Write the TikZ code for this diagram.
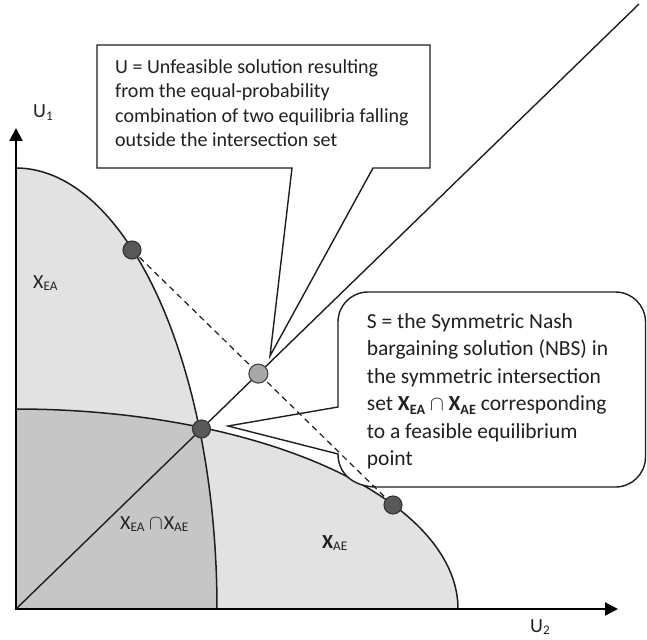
\documentclass[tikz,border=0pt]{standalone}
\usepackage{fontspec}
\setmainfont{Carlito}
\usetikzlibrary{arrows.meta}
\definecolor{txt}{HTML}{231F20}
\definecolor{lightreg}{HTML}{E2E2E2}
\definecolor{midreg}{HTML}{C6C6C6}
\definecolor{dotdark}{HTML}{595959}
\definecolor{dotlight}{HTML}{A8A8A8}
\definecolor{lineclr}{HTML}{1E1E1E}
\newcommand\lowsub[1]{\raisebox{-0.3ex}{\scalebox{0.66}{#1}}}
\begin{document}
\begin{tikzpicture}[x=1bp,y=-1bp,
  frontier/.style={draw=lineclr,line width=1.5bp},
  axisline/.style={draw=black,line width=2.2bp,{Triangle[length=13bp,width=13bp]}-{Triangle[length=13bp,width=13bp]}},
  diag/.style={draw=lineclr,line width=1.4bp},
  dashline/.style={draw=lineclr,line width=1.2bp,dash pattern=on 6bp off 4.5bp},
  eqdot/.style={circle,fill=dotdark,draw=black!80,line width=1.1bp,minimum size=18bp,inner sep=0},
  udot/.style={circle,fill=dotlight,draw=black!75,line width=1.1bp,minimum size=19bp,inner sep=0},
  callout/.style={draw=lineclr,fill=white,line width=1.4bp,line join=miter},
  lbl/.style={inner sep=0,text=txt,font=\fontsize{20bp}{24bp}\selectfont},
  boxtext/.style={anchor=north west,inner sep=0,align=left,text=txt},
  ]
\useasboundingbox (0,0) rectangle (647,640);

\coordinate (O) at (16,609);
\coordinate (ytip) at (16,128);
\coordinate (xtip) at (618,609);
\coordinate (diagend) at (639,4);
\coordinate (pA) at (132,250);
\coordinate (pB) at (393,505);
\coordinate (pS) at (201.5,429);
\coordinate (pU) at (258.4,373.6);
\coordinate (tipU) at (270,356);
\coordinate (tipS) at (228,426);

% regions
\fill[lightreg] (O) -- plot[domain=0:90,samples=90] ({16+201*cos(\x)},{609-441*sin(\x)}) -- cycle;
\fill[lightreg] (O) -- plot[domain=0:90,samples=90] ({16+442*cos(\x)},{609-200*sin(\x)}) -- cycle;
\begin{scope}
  \clip (O) -- plot[domain=0:90,samples=90] ({16+201*cos(\x)},{609-441*sin(\x)}) -- cycle;
  \fill[midreg] (O) -- plot[domain=0:90,samples=90] ({16+442*cos(\x)},{609-200*sin(\x)}) -- cycle;
\end{scope}

% frontiers
\draw[frontier] plot[domain=0:90,samples=90] ({16+201*cos(\x)},{609-441*sin(\x)});
\draw[frontier] plot[domain=0:90,samples=90] ({16+442*cos(\x)},{609-200*sin(\x)});

% axes and diagonal
\draw[axisline] (ytip) -- (O) -- (xtip);
\draw[diag] (O) -- (diagend);

% callouts
\draw[callout] (97,45) -- (430,45) -- (430,168) -- (373,168) -- (tipU) -- (292,168) -- (97,168) -- cycle;
\draw[callout] (338,407) -- (tipS) -- (338,454)
  .. controls (338,474) and (354,487) .. (377,487) -- (615.5,487)
  .. controls (632.1,487) and (645.5,473.6) .. (645.5,457) -- (645.5,322)
  .. controls (645.5,305.4) and (632.1,292) .. (615.5,292) -- (368,292)
  .. controls (351.4,292) and (338,305.4) .. (338,322) -- cycle;

% dashed combination line
\draw[dashline] (pA) -- (pB);

% points
\node[eqdot] (A) at (pA) {};
\node[eqdot] (B) at (pB) {};
\node[eqdot] (S) at (pS) {};
\node[udot] (U) at (pU) {};

% labels
\node[lbl,anchor=base west] (u1lab) at (33,118) {U\lowsub{1}};
\node[lbl,anchor=base west] (u2lab) at (530,632) {U\lowsub{2}};
\node[lbl,anchor=base west] (xealab) at (33,288) {X\lowsub{EA}};
\node[lbl,anchor=base west] (interlab) at (120,529) {X\lowsub{EA} $\cap$\hspace{1bp}X\lowsub{AE}};
\node[lbl,anchor=base west] (xaelab) at (322,548) {\textbf{X}\lowsub{AE}};

\node[boxtext,font=\fontsize{20bp}{24.4bp}\selectfont] (utext) at (115,56.2)
  {\strut U = Unfeasible solution resulting\\from the equal-probability\\combination of two equilibria falling\\outside the intersection set};
\node[boxtext,font=\fontsize{21.5bp}{27.5bp}\selectfont] (stext) at (366.7,309)
  {\strut S = the Symmetric Nash\\bargaining solution (NBS) in\\the symmetric intersection\\set \textbf{X\lowsub{EA}} $\cap$ \textbf{X\lowsub{AE}} corresponding\\to a feasible equilibrium\\point};
\end{tikzpicture}
\end{document}
